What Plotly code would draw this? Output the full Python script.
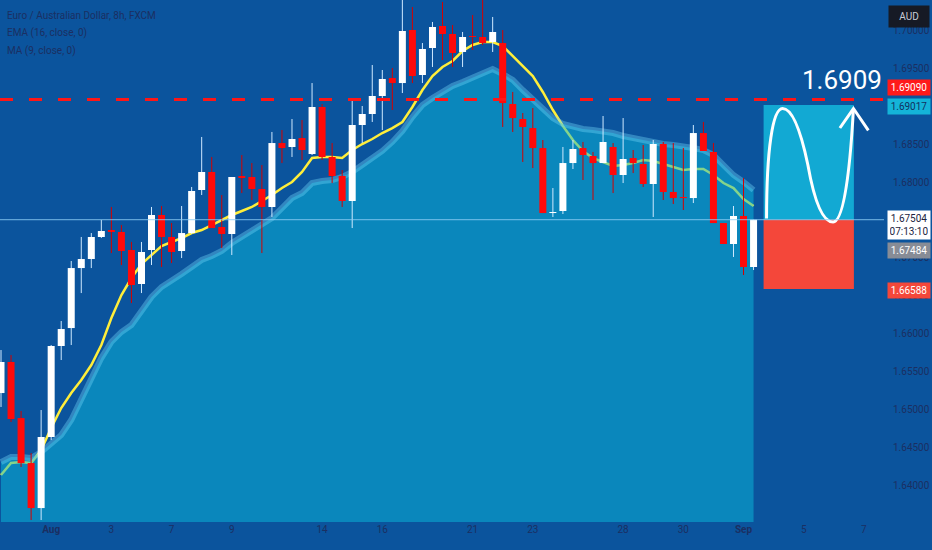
import plotly.graph_objects as go

# ---------------- data (EUR/AUD 8h, FXCM) ----------------
bars = list(range(76))

opens = [1.65216, 1.65626, 1.64886, 1.64292, 1.63698, 1.64636, 1.65837, 1.66074, 1.66866, 1.66985,
         1.67276, 1.67368, 1.67342, 1.67104, 1.66655, 1.67104, 1.67566, 1.67276, 1.67091, 1.67328,
         1.67896, 1.68134, 1.67408, 1.67315, 1.68081, 1.68068, 1.67909, 1.67672, 1.68516, 1.68464,
         1.68582, 1.68371, 1.68992, 1.68332, 1.68081, 1.67751, 1.68754, 1.68899, 1.69137, 1.69374,
         1.69308, 1.70008, 1.69414, 1.69770, 1.70061, 1.69955, 1.69718, 1.69929, 1.69916, 1.69850,
         1.69836, 1.69031, 1.68833, 1.68714, 1.68450, 1.67592, 1.67619, 1.68252, 1.68450, 1.68345,
         1.68252, 1.68464, 1.68094, 1.68318, 1.68239, 1.67975, 1.68503, 1.67870, 1.67804, 1.67790,
         1.68648, 1.68398, 1.67460, 1.67183, 1.67553, 1.66880]

highs = [1.65784, 1.65718, 1.64979, 1.64424, 1.64992, 1.65850, 1.66167, 1.66959, 1.67276, 1.67328,
         1.67500, 1.67672, 1.67434, 1.67210, 1.67210, 1.67672, 1.67685, 1.67460, 1.67685, 1.67936,
         1.68596, 1.68332, 1.67830, 1.68068, 1.68358, 1.68252, 1.68226, 1.68662, 1.68688, 1.68833,
         1.68820, 1.69308, 1.69031, 1.68516, 1.68160, 1.69110, 1.69005, 1.69546, 1.69480, 1.69506,
         1.70404, 1.70312, 1.69836, 1.70114, 1.70378, 1.70074, 1.69982, 1.70206, 1.70404, 1.70180,
         1.70008, 1.69190, 1.68912, 1.68978, 1.68556, 1.67922, 1.68464, 1.68556, 1.68530, 1.68398,
         1.68873, 1.68516, 1.68846, 1.68424, 1.68490, 1.68556, 1.68530, 1.68516, 1.68450, 1.68754,
         1.68794, 1.68516, 1.67460, 1.67685, 1.68054, 1.67504]

lows = [1.65032, 1.64834, 1.64240, 1.63540, 1.63540, 1.64596, 1.65652, 1.65850, 1.66536, 1.66866,
        1.67262, 1.67064, 1.66906, 1.66404, 1.66536, 1.66906, 1.66880, 1.66932, 1.66998, 1.67315,
        1.67830, 1.67394, 1.67130, 1.67038, 1.67856, 1.67764, 1.67064, 1.67540, 1.68252, 1.68332,
        1.68292, 1.68358, 1.68292, 1.67988, 1.67672, 1.67394, 1.68516, 1.68794, 1.68688, 1.68952,
        1.69176, 1.69308, 1.69308, 1.69520, 1.69612, 1.69520, 1.69520, 1.69744, 1.69810, 1.69718,
        1.68728, 1.68662, 1.68266, 1.68186, 1.67592, 1.67540, 1.67579, 1.68173, 1.68028, 1.67764,
        1.68252, 1.67856, 1.67988, 1.68120, 1.67936, 1.67540, 1.67764, 1.67711, 1.67632, 1.67724,
        1.68411, 1.67460, 1.67183, 1.67012, 1.66774, 1.66840]

closes = [1.65626, 1.64873, 1.64292, 1.63698, 1.64636, 1.65837, 1.66061, 1.66866, 1.66985, 1.67276,
          1.67355, 1.67342, 1.67091, 1.66642, 1.67078, 1.67566, 1.67276, 1.67078, 1.67328, 1.67883,
          1.68134, 1.67394, 1.67315, 1.68068, 1.68054, 1.67909, 1.67672, 1.68516, 1.68450, 1.68569,
          1.68424, 1.68992, 1.68332, 1.68081, 1.67751, 1.68754, 1.68899, 1.69137, 1.69361, 1.69308,
          1.69995, 1.69401, 1.69757, 1.70048, 1.69955, 1.69704, 1.69916, 1.69916, 1.69836, 1.69982,
          1.69044, 1.68846, 1.68728, 1.68450, 1.67592, 1.67606, 1.68252, 1.68437, 1.68358, 1.68252,
          1.68530, 1.68094, 1.68305, 1.68252, 1.67975, 1.68503, 1.67870, 1.67790, 1.67790, 1.68648,
          1.68411, 1.67460, 1.67183, 1.67553, 1.66880, 1.67504]

ema16 = [1.64134, 1.64292, 1.64306, 1.64292, 1.64464, 1.64754, 1.65018, 1.65216, 1.65388, 1.65586,
         1.65850, 1.66206, 1.66510, 1.66734, 1.66919, 1.67038, 1.67157, 1.67210, 1.67262, 1.67328,
         1.67368, 1.67434, 1.67500, 1.67566, 1.67619, 1.67672, 1.67751, 1.67830, 1.67922, 1.68002,
         1.68134, 1.68318, 1.68332, 1.68332, 1.68318, 1.68424, 1.68503, 1.68569, 1.68648, 1.68714,
         1.68794, 1.68992, 1.69216, 1.69401, 1.69520, 1.69599, 1.69731, 1.69810, 1.69850, 1.69850,
         1.69797, 1.69665, 1.69546, 1.69401, 1.69190, 1.68952, 1.68741, 1.68556, 1.68411, 1.68318,
         1.68266, 1.68213, 1.68226, 1.68252, 1.68292, 1.68279, 1.68239, 1.68200, 1.68160, 1.68173,
         1.68173, 1.68094, 1.67988, 1.67922, 1.67777, 1.67685]

ma9_area = [1.64306, 1.64372, 1.64372, 1.64358, 1.64438, 1.64543, 1.64662, 1.64860, 1.65124, 1.65414,
            1.65678, 1.65890, 1.66022, 1.66114, 1.66286, 1.66484, 1.66616, 1.66695, 1.66787, 1.66880,
            1.66972, 1.67025, 1.67091, 1.67196, 1.67276, 1.67368, 1.67434, 1.67526, 1.67658, 1.67790,
            1.67856, 1.67988, 1.68015, 1.68028, 1.68068, 1.68134, 1.68226, 1.68318, 1.68411, 1.68530,
            1.68675, 1.68860, 1.69018, 1.69110, 1.69190, 1.69269, 1.69322, 1.69374, 1.69427, 1.69493,
            1.69427, 1.69348, 1.69216, 1.69084, 1.68952, 1.68846, 1.68767, 1.68728, 1.68701, 1.68688,
            1.68675, 1.68648, 1.68609, 1.68582, 1.68556, 1.68516, 1.68503, 1.68490, 1.68477, 1.68450,
            1.68424, 1.68358, 1.68226, 1.68094, 1.68002, 1.67896]

date_tick_bars = [5, 11, 17, 23, 32, 38, 47, 53, 62, 68, 74, 80, 86]
date_tick_labels = ["<b>Aug</b>", "3", "7", "9", "14", "16", "21", "23", "28", "30", "<b>Sep</b>", "5", "7"]

price_ticks = [1.640, 1.645, 1.650, 1.655, 1.660, 1.665, 1.670, 1.675, 1.680, 1.685, 1.690, 1.695, 1.700]
price_tick_labels = ["%.5f" % p for p in price_ticks]

alert_level = 1.6909
last_price = 1.67504
ema_label_price = 1.67484
target_price = 1.69017
stop_price = 1.66588
countdown = "07:13:10"
pos_start_bar = 76.0
pos_end_bar = 85.0

# ---------------- style ----------------
BG = "#0b549d"
AXIS_TXT = "#1b2f62"
FONT = "Liberation Sans Narrow, Roboto, sans-serif"

fig = go.Figure()

# EMA first, then the translucent area on top of it (makes it greenish inside the area)
fig.add_trace(go.Scatter(x=bars, y=ema16, mode="lines",
                         line=dict(color="#ffee3a", width=2.5), hoverinfo="skip"))
fig.add_trace(go.Scatter(x=bars, y=ma9_area, mode="lines", fill="tozeroy",
                         fillcolor="rgba(10,185,220,0.5)",
                         line=dict(color="rgba(110,210,245,0.4)", width=6), hoverinfo="skip"))

# candles (wicks + bodies) drawn as line segments so that they sit above the area
def segments(rising):
    wx, wy, bx, by = [], [], [], []
    for i, o, h, l, c in zip(bars, opens, highs, lows, closes):
        if (c >= o) == rising:
            wx += [i, i, None]
            wy += [l, h, None]
            bx += [i, i, None]
            by += [o, c, None]
    return wx, wy, bx, by

for rising, wick_col, body_col in [(True, "#cfe9ff", "#ffffff"), (False, "#d40000", "#ff0a0a")]:
    wx, wy, bx, by = segments(rising)
    fig.add_trace(go.Scatter(x=wx, y=wy, mode="lines", line=dict(color=wick_col, width=1),
                             hoverinfo="skip", connectgaps=False))
    fig.add_trace(go.Scatter(x=bx, y=by, mode="lines", line=dict(color=body_col, width=7),
                             hoverinfo="skip", connectgaps=False))

shapes = []
# long position tool
shapes.append(dict(type="rect", xref="x", yref="y", x0=pos_start_bar, x1=pos_end_bar,
                   y0=last_price, y1=target_price, fillcolor="#12a9d3", line=dict(width=0), layer="above"))
shapes.append(dict(type="rect", xref="x", yref="y", x0=pos_start_bar, x1=pos_end_bar,
                   y0=stop_price, y1=last_price, fillcolor="#f4473a", line=dict(width=0), layer="above"))

# wave drawing inside the target zone (fractions of the box)
def pt(u, v):
    x = pos_start_bar + u * (pos_end_bar - pos_start_bar)
    y = last_price + v * (target_price - last_price)
    return "%.4f,%.6f" % (x, y)

wave = ("M " + pt(0.033, 0.01) +
        " C " + pt(0.033, 0.61) + " " + pt(0.10, 0.97) + " " + pt(0.21, 0.97) +
        " C " + pt(0.32, 0.97) + " " + pt(0.41, 0.78) + " " + pt(0.49, 0.48) +
        " C " + pt(0.56, 0.17) + " " + pt(0.65, -0.02) + " " + pt(0.77, -0.02) +
        " C " + pt(0.91, -0.02) + " " + pt(0.97, 0.61) + " " + pt(0.995, 0.97))
shapes.append(dict(type="path", xref="x", yref="y", path=wave,
                   line=dict(color="white", width=3), layer="above"))
arrow = "M " + pt(0.845, 0.80) + " L " + pt(0.995, 0.97) + " L " + pt(1.16, 0.78)
shapes.append(dict(type="path", xref="x", yref="y", path=arrow,
                   line=dict(color="white", width=3), layer="above"))

# alert level & last price lines
shapes.append(dict(type="line", xref="paper", yref="y", x0=0, x1=1, y0=alert_level, y1=alert_level,
                   line=dict(color="#ff1616", width=3, dash="13px,16px"), layer="above"))
shapes.append(dict(type="line", xref="paper", yref="y", x0=0, x1=1, y0=last_price, y1=last_price,
                   line=dict(color="rgba(140,205,245,0.85)", width=1), layer="above"))

annotations = []
# legend text
legend_lines = ["Euro / Australian Dollar, 8h, FXCM", "EMA (16, close, 0)", "MA (9, close, 0)"]
for i, t in enumerate(legend_lines):
    annotations.append(dict(text=t, xref="paper", yref="paper", x=0, y=1, xanchor="left", yanchor="middle",
                            xshift=5, yshift=-15 - 18 * i, showarrow=False,
                            font=dict(family=FONT, size=10, color=AXIS_TXT)))

# big target text
annotations.append(dict(text="1.6909", xref="x", yref="y", x=79.6, y=1.69348, xanchor="left",
                        yanchor="middle", showarrow=False,
                        font=dict(family="Roboto, sans-serif", size=26, color="white")))

# price-scale labels
def price_label(text, price, bg, fg, yshift):
    return dict(text=text, xref="paper", yref="y", x=1, y=price, xanchor="left", yanchor="middle",
                xshift=3, yshift=yshift, showarrow=False, bgcolor=bg, borderpad=2, width=38,
                align="center", font=dict(family=FONT, size=10, color=fg))

annotations.append(price_label("%.5f" % alert_level, alert_level, "#ff1a1a", "white", 12))
annotations.append(price_label("%.5f" % target_price, target_price, "#14b4d8", "#123060", -1))
annotations.append(price_label("%.5f<br>%s" % (last_price, countdown), last_price, "white", "#1b2440", -5))
annotations.append(price_label("%.5f" % ema_label_price, ema_label_price, "#878c96", "white", -29))
annotations.append(price_label("%.5f" % stop_price, stop_price, "#f4473a", "white", -1))
# currency box
annotations.append(dict(text="AUD", xref="paper", yref="paper", x=1, y=1, xanchor="left", yanchor="top",
                        xshift=4, yshift=-5, showarrow=False, bgcolor="#161a25", borderpad=3,
                        width=34, height=15, align="center",
                        font=dict(family=FONT, size=10, color="#c8ccd6")))

fig.update_layout(
    width=932, height=550,
    margin=dict(l=0, r=48, t=0, b=28, autoexpand=False),
    paper_bgcolor=BG, plot_bgcolor=BG,
    showlegend=False,
    shapes=shapes, annotations=annotations,
    xaxis=dict(range=[-0.1, 88.0], showgrid=False, zeroline=False, showline=False, automargin=False,
               tickmode="array", tickvals=date_tick_bars, ticktext=date_tick_labels,
               tickfont=dict(family=FONT, size=10, color=AXIS_TXT), ticks="", fixedrange=True),
    yaxis=dict(range=[1.63514, 1.70404], side="right", showgrid=False, zeroline=False, showline=False,
               automargin=False,
               tickmode="array", tickvals=price_ticks, ticktext=price_tick_labels,
               tickfont=dict(family=FONT, size=10, color=AXIS_TXT), ticks="",
               ticklabelstandoff=8, fixedrange=True),
)

# page body has a default 8px margin; remove it so the 932x550 figure fills the window
fig.write_html("out.html", config={"displayModeBar": False},
               post_script="document.body.style.margin='0';document.body.style.overflow='hidden';")
